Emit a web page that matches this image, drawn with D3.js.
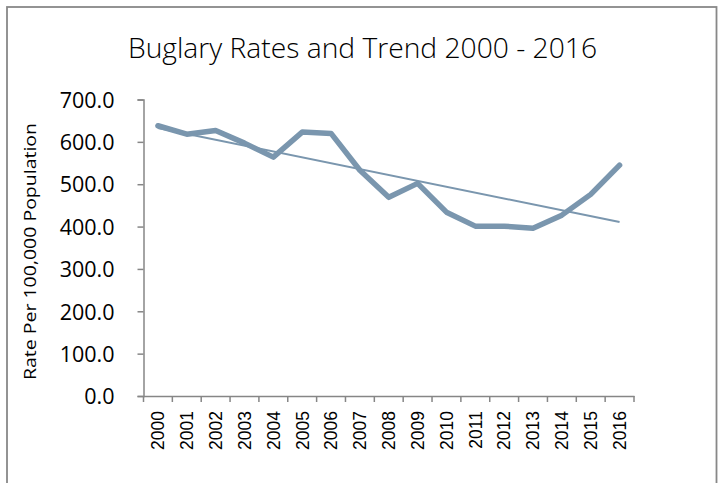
<!DOCTYPE html>
<html><head><meta charset="utf-8">
<script src="https://cdn.jsdelivr.net/npm/d3@7"></script>
<style>body{margin:0;background:#fff}</style>
</head><body>
<svg id="c" width="723" height="483"></svg>
<script>
const years = ["2000","2001","2002","2003","2004","2005","2006","2007","2008","2009","2010","2011","2012","2013","2014","2015","2016"];
const rates = [638,618,627,597,564,623,620,533,469,502,434,401,401,396,427,476,545];
const yTicks = [0,100,200,300,400,500,600,700];
const title = "Buglary Rates and Trend 2000 - 2016";
const yLabel = "Rate Per 100,000 Population";

const svg = d3.select("#c");
svg.append("rect").attr("x",7).attr("y",7).attr("width",709.5).attr("height",500)
  .attr("fill","#fff").attr("stroke","#888").attr("stroke-width",1.8);

const L=143.5, R=634, T=99.5, B=396;
const x = d3.scaleBand().domain(years).range([L,R]);
const y = d3.scaleLinear().domain([0,700]).range([B,T]);
const axisCol="#868686";

svg.append("text").attr("x",362.5).attr("y",58).attr("text-anchor","middle")
  .attr("font-family","'Open Sans', sans-serif").attr("font-weight",300).attr("font-size",28)
  .attr("textLength",469).attr("lengthAdjust","spacingAndGlyphs")
  .attr("fill","#000").text(title);

// y axis
const ya = svg.append("g").attr("transform",`translate(${L},0)`)
  .call(d3.axisLeft(y).tickValues(yTicks).tickFormat(d3.format(".1f")).tickSize(6).tickPadding(23));
ya.select(".domain").attr("stroke",axisCol).attr("stroke-width",1.5);
ya.selectAll(".tick line").attr("stroke",axisCol).attr("stroke-width",1.5);
ya.selectAll("text").attr("font-family","'Open Sans', sans-serif").attr("font-size",21.5).attr("fill","#000").attr("dy","0.36em");

// x axis
const xa = svg.append("g").attr("transform",`translate(0,${B})`)
  .call(d3.axisBottom(x).tickSize(0).tickSizeOuter(0));
xa.select(".domain").attr("stroke",axisCol).attr("stroke-width",1.5);
xa.selectAll(".tick line").remove();
const bounds = years.map(d=>x(d)).concat([R]);
xa.selectAll("line.bt").data(bounds).join("line").attr("class","bt")
  .attr("x1",d=>d).attr("x2",d=>d).attr("y1",0).attr("y2",6)
  .attr("stroke",axisCol).attr("stroke-width",1.5);
xa.selectAll(".tick text")
  .attr("font-family","'Liberation Sans', Arial, sans-serif").attr("font-size",17.5).attr("fill","#000")
  .attr("transform","rotate(-90)").attr("text-anchor","end")
  .attr("x",-15).attr("y",0).attr("dy","0.36em");

svg.append("text").attr("transform","translate(36,251.5) rotate(-90)").attr("text-anchor","middle")
  .attr("font-family","'Open Sans', sans-serif").attr("font-size",17)
  .attr("textLength",257).attr("lengthAdjust","spacingAndGlyphs")
  .attr("fill","#000").text(yLabel);

// trend (linear least squares)
const n = rates.length, idx = d3.range(n);
const mx = d3.mean(idx), my = d3.mean(rates);
const slope = d3.sum(idx,i=>(i-mx)*(rates[i]-my))/d3.sum(idx,i=>(i-mx)*(i-mx));
const icpt = my - slope*mx;
const cx = d => x(d)+x.bandwidth()/2;
const lineCol="#7a96ae";

svg.append("path").datum(rates)
  .attr("d", d3.line().x((d,i)=>cx(years[i])).y(d=>y(d)))
  .attr("fill","none").attr("stroke",lineCol).attr("stroke-width",5.5).attr("stroke-linejoin","round").attr("stroke-linecap","round");

svg.append("line")
  .attr("x1",cx(years[0])).attr("y1",y(icpt))
  .attr("x2",cx(years[n-1])).attr("y2",y(icpt+slope*(n-1)))
  .attr("stroke",lineCol).attr("stroke-width",2);
</script>
</body></html>
